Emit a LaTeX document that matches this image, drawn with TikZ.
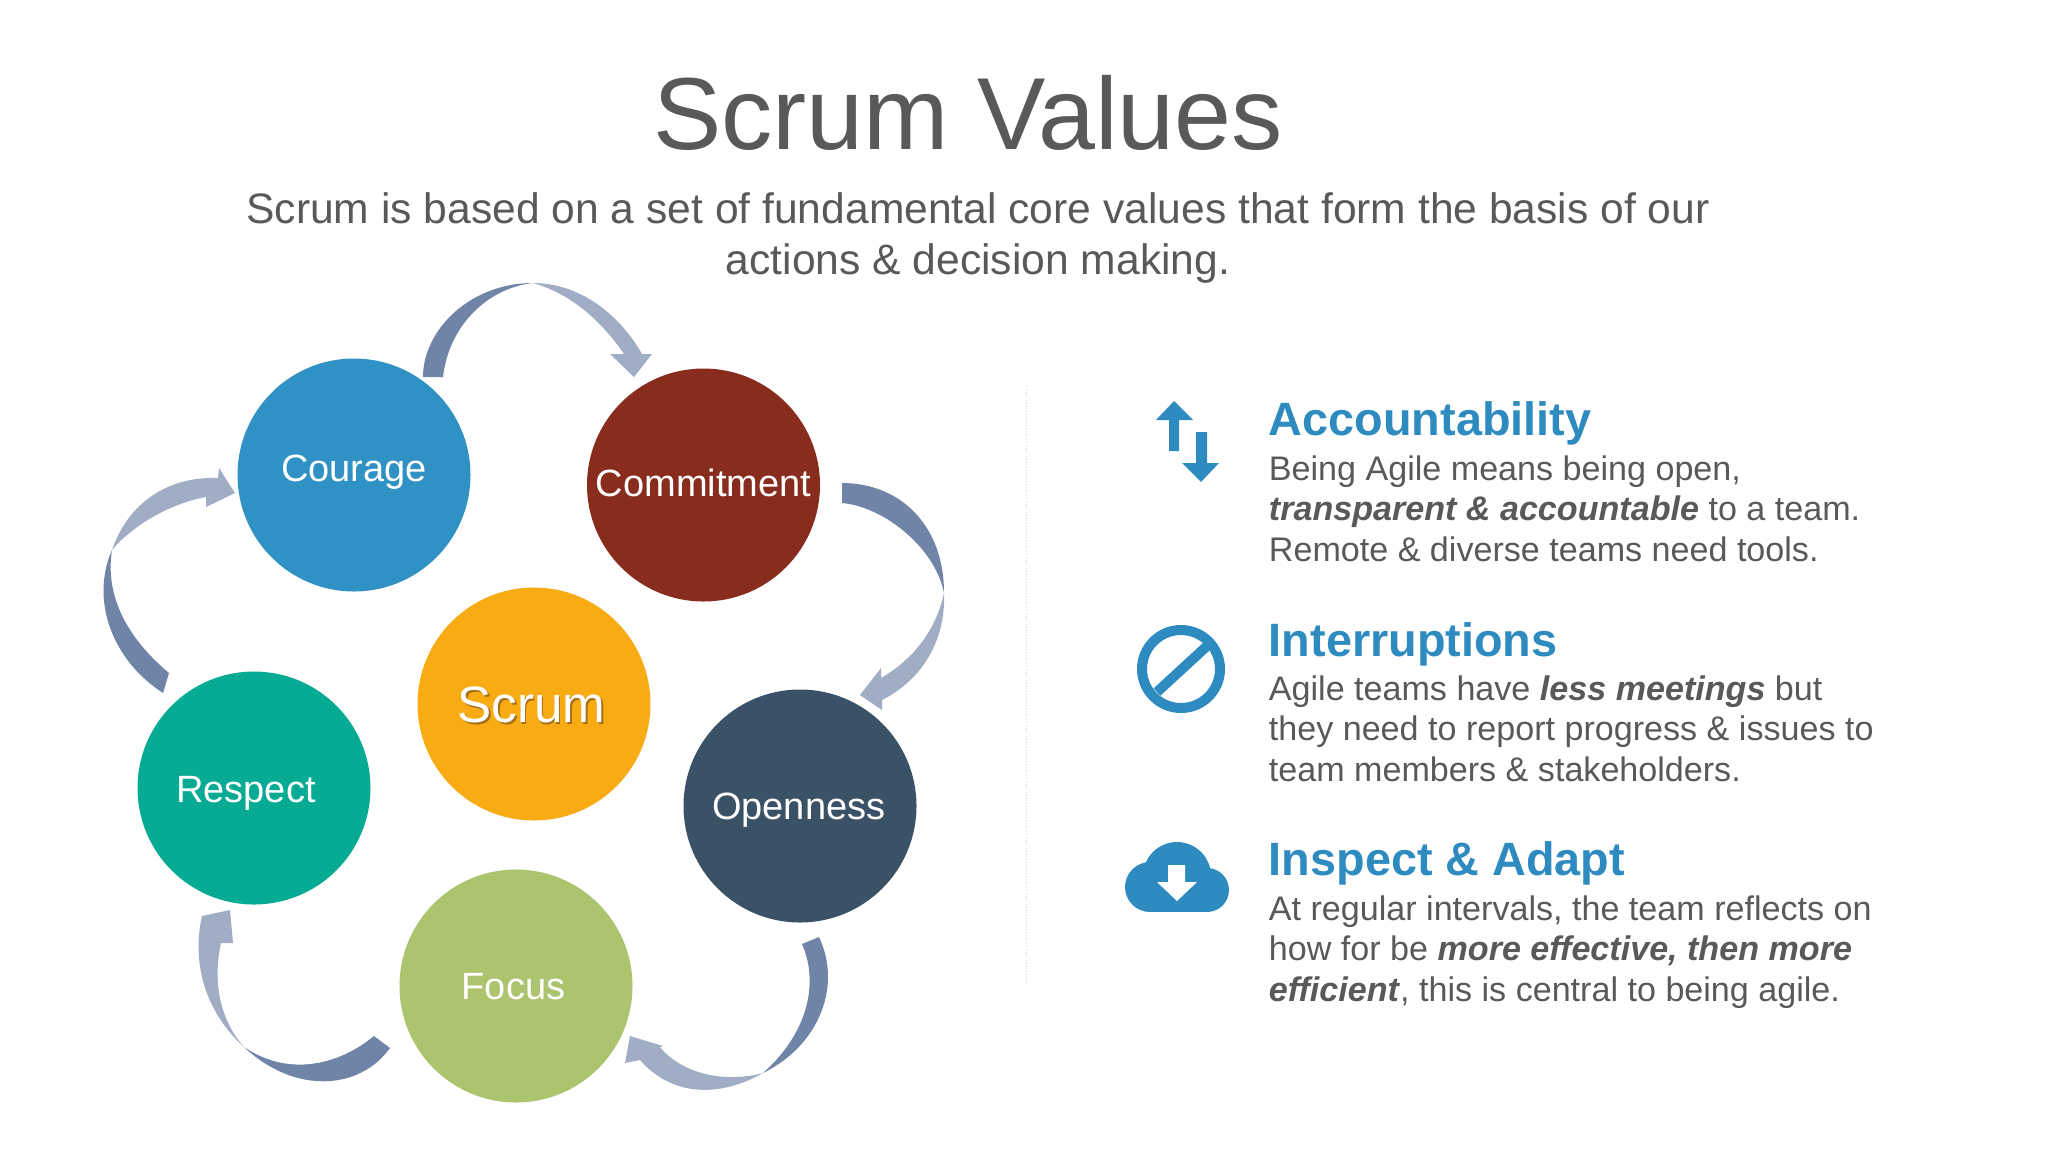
\documentclass[tikz,border=0pt]{standalone}
\usepackage{fontspec}
\setmainfont{Liberation Sans}
\definecolor{textgray}{HTML}{595959}
\definecolor{headblue}{HTML}{2E8BC0}
\definecolor{tailcol}{HTML}{7084A8}
\definecolor{headcol}{HTML}{A0ADC4}
\definecolor{scrumshadow}{HTML}{A5701A}
\tikzset{
	valuecircle/.style={circle,minimum size=116.5pt,inner sep=0pt,text=white,text depth=0pt,font=\fontsize{19}{23}\selectfont},
	headline/.style={anchor=base west,inner sep=0pt,text=headblue,font=\fontsize{23.4}{28}\bfseries\selectfont},
	bodytext/.style={anchor=north west,inner sep=0pt,align=left,text=textgray,font=\fontsize{17.05}{20.3}\selectfont},
	tailpart/.style={fill=tailcol},
	headpart/.style={fill=headcol},
	iconfill/.style={fill=headblue}
}
\begin{document}
\begin{tikzpicture}[x=0.5pt,y=-0.5pt]
	\useasboundingbox (0,0) rectangle (2048,1152);

	% title
	\node[inner sep=0pt,anchor=base,text=textgray,font=\fontsize{51.2}{60}\selectfont] (title) at (968,149) {Scrum Values};
	\node[inner sep=0pt,anchor=north,align=center,text=textgray,font=\fontsize{21.3}{25.5}\selectfont] (subtitle) at (978,192)
		{Scrum is based on a set of fundamental core values that form the basis of our\\actions \& decision making.};

	% arrows, tail piece then head piece
	\fill[tailpart] (423,377) .. controls (423,330) and (470,283) .. (533,283)
		.. controls (488,288) and (449,325) .. (443,377) -- cycle;
	\fill[headpart] (533,283) .. controls (580,283) and (620,315) .. (642,354)
		-- (652,354) -- (634,377) -- (610,354) -- (624,354)
		.. controls (602,322) and (572,294) .. (533,283) -- cycle;

	\fill[tailpart] (842,483) .. controls (900,483) and (944,525) .. (944,593)
		.. controls (936,550) and (886,507) .. (842,503) -- cycle;
	\fill[headpart] (944,593) .. controls (946,645) and (918,682) .. (882,700)
		-- (882,710) -- (860,695) -- (881,668) -- (881,678)
		.. controls (902,666) and (934,640) .. (944,593) -- cycle;

	\fill[tailpart] (819,937) .. controls (842,985) and (820,1045) .. (763,1073)
		.. controls (806,1035) and (820,985) .. (802,944) -- cycle;
	\fill[headpart] (763,1073) .. controls (725,1095) and (675,1100) .. (640,1060)
		-- (625,1063) -- (630,1036) -- (663,1046) -- (660,1047)
		.. controls (680,1072) and (722,1084) .. (763,1073) -- cycle;

	\fill[tailpart] (390,1048) .. controls (360,1090) and (295,1095) .. (244,1047)
		.. controls (290,1078) and (340,1064) .. (374,1036) -- cycle;
	\fill[headpart] (244,1047) .. controls (203,1010) and (192,960) .. (202,916)
		-- (230,910) -- (233,943) -- (221,943)
		.. controls (214,975) and (216,1015) .. (244,1047) -- cycle;

	\fill[tailpart] (112,550) .. controls (90,600) and (112,660) .. (163,693)
		-- (169,673) .. controls (132,642) and (104,600) .. (112,550) -- cycle;
	\fill[headpart] (112,550) .. controls (128,503) and (168,476) .. (218,478)
		-- (219,468) -- (235,493) -- (206,507) -- (206,497)
		.. controls (172,503) and (134,524) .. (112,550) -- cycle;

	% circles
	\node[valuecircle,text height=6.7pt,fill={rgb,255:red,48;green,145;blue,197}] (courage) at (354,475) {Courage};
	\node[valuecircle,text height=11pt,fill={rgb,255:red,136;green,45;blue,30}] (commitment) at (703.5,485) {Commitment};
	\node[valuecircle,text height=18.5pt,fill={rgb,255:red,249;green,171;blue,20},font=\fontsize{25.6}{30}\selectfont] (scrum) at (534,704)
		{\hspace{-2.6pt}\rlap{\hspace{0.8pt}\raisebox{-0.8pt}{\textcolor{scrumshadow}{Scrum}}}Scrum};
	\node[valuecircle,text height=13pt,fill={rgb,255:red,59;green,81;blue,102}] (openness) at (800,806) {\hspace{-1.3pt}Openness};
	\node[valuecircle,text height=13pt,fill={rgb,255:red,172;green,196;blue,110}] (focus) at (516,986) {\hspace{-2.5pt}Focus};
	\node[valuecircle,text height=14pt,fill={rgb,255:red,7;green,171;blue,148}] (respect) at (254,788) {\hspace{-8pt}Respect};

	% divider
	\draw[gray!35,densely dotted,line width=0.4pt] (1026.5,386) -- (1026.5,985);

	% icons
	\fill[iconfill] (1174,401) -- (1193,420) -- (1179,420) -- (1179,451) -- (1169,451) -- (1169,420) -- (1156,420) -- cycle;
	\fill[iconfill] (1201,482) -- (1219,463) -- (1207,463) -- (1207,432) -- (1196,432) -- (1196,463) -- (1182,463) -- cycle;
	\draw[headblue,line width=5pt] (1181,669) circle (39);
	\draw[headblue,line width=5pt] (1157,692) -- (1207,646);
	\foreach \cx/\cy/\cr in {1150/887/25, 1207/890/22, 1177/876/34}
		\fill[iconfill] (\cx,\cy) circle (\cr);
	\fill[iconfill] (1150,880) rectangle (1207,912);
	\fill[white] (1177,901) -- (1197,882) -- (1185,882) -- (1185,865) -- (1168,865) -- (1168,882) -- (1157,882) -- cycle;

	% text blocks
	\node[headline] (accountability) at (1268.5,435) {Accountability};
	\node[bodytext] (accountabilitytext) at (1268.5,455)
		{Being Agile means being open,\\\textbf{\textit{transparent \& accountable}} to a team.\\Remote \& diverse teams need tools.};
	\node[headline] (interruptions) at (1268.5,656) {Interruptions};
	\node[bodytext] (interruptionstext) at (1268.5,675)
		{Agile teams have \textbf{\textit{less meetings}} but\\they need to report progress \& issues to\\team members \& stakeholders.};
	\node[headline] (inspect) at (1268.5,875) {Inspect \& Adapt};
	\node[bodytext] (inspecttext) at (1268.5,895)
		{At regular intervals, the team reflects on\\how for be \textbf{\textit{more effective, then more}}\\\textbf{\textit{efficient}}, this is central to being agile.};
\end{tikzpicture}
\end{document}
